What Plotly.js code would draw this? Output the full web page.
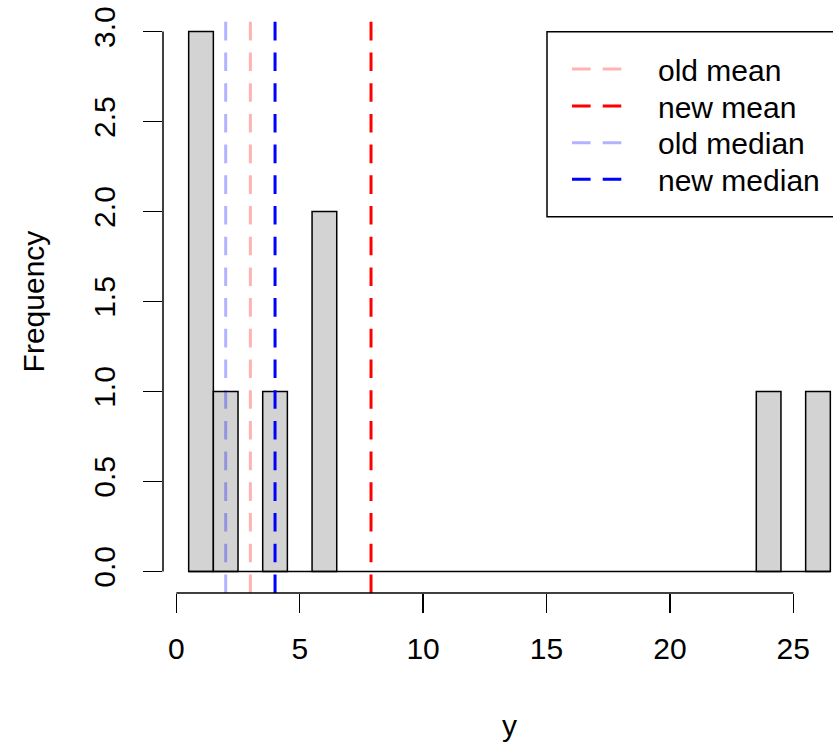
<!DOCTYPE html>
<html>
<head>
<meta charset="utf-8">
<script src="https://cdn.plot.ly/plotly-3.0.1.min.js"></script>
<style>
  html, body { margin: 0; padding: 0; overflow: hidden; background: #fff; }
  #chart { width: 900px; height: 742px; }
</style>
</head>
<body>
<div id="chart"></div>
<script>
// ---- data ----
var oldValues = [1, 1, 1, 2, 4, 6, 6];
var addedValues = [24, 26];
var newValues = oldValues.concat(addedValues);

var binStart = 0.5;
var binEnd = 26.5;
var binSize = 1;

var xTickVals = [0, 5, 10, 15, 20, 25];
var yTickVals = [0, 0.5, 1, 1.5, 2, 2.5, 3];
var yTickText = ['0.0', '0.5', '1.0', '1.5', '2.0', '2.5', '3.0'];

var lineNames = ['old mean', 'new mean', 'old median', 'new median'];
var lineColors = ['rgba(255,0,0,0.3)', 'rgb(255,0,0)', 'rgba(0,0,255,0.3)', 'rgb(0,0,255)'];

// ---- helpers ----
function mean(a) { return a.reduce(function (s, v) { return s + v; }, 0) / a.length; }
function median(a) {
  var s = a.slice().sort(function (p, q) { return p - q; });
  var n = s.length;
  return n % 2 ? s[(n - 1) / 2] : (s[n / 2 - 1] + s[n / 2]) / 2;
}
var lineValues = [mean(oldValues), mean(newValues), median(oldValues), median(newValues)];

// R-style 4% axis extension
var xPad = (binEnd - binStart) * 0.04;
var xRange = [binStart - xPad, binEnd + xPad];
var yMax = 3;
var yRange = [-yMax * 0.04, yMax * 1.04];

var FONT = '"Liberation Sans", Arial, Helvetica, sans-serif';
var FS = 30;

var traces = [];
// baseline of empty bins (R draws zero-height rectangles)
traces.push({
  type: 'scatter', mode: 'lines',
  x: [binStart, binEnd], y: [0, 0],
  line: { color: '#000', width: 1.5 },
  showlegend: false, hoverinfo: 'skip'
});
traces.push({
  type: 'histogram',
  x: newValues,
  autobinx: false,
  xbins: { start: binStart, end: binEnd, size: binSize },
  marker: { color: '#D3D3D3', line: { color: '#000', width: 1.5 } },
  showlegend: false
});
for (var i = 0; i < lineNames.length; i++) {
  traces.push({
    type: 'scatter', mode: 'lines',
    name: lineNames[i],
    x: [lineValues[i], lineValues[i]],
    y: [yRange[0], yRange[1]],
    line: { color: lineColors[i], width: 3, dash: '18.6px,12.1px' },
    cliponaxis: true
  });
}

// plot area in pixels
var L = 163, R = 44, T = 10, B = 149, W = 900, H = 742;
var PW = W - L - R, PH = H - T - B;
function px2x(p) { return (p - L) / PW; }
function px2y(p) { return (H - B - p) / PH; }

var layout = {
  width: W, height: H,
  margin: { l: L, r: R, t: T, b: B, pad: 0, autoexpand: false },
  paper_bgcolor: '#fff', plot_bgcolor: '#fff',
  font: { family: FONT, size: FS, color: '#000' },
  bargap: 0,
  showlegend: true,
  xaxis: {
    range: xRange, showgrid: false, zeroline: false, showline: false,
    tickmode: 'array', tickvals: xTickVals,
    ticks: 'outside', ticklen: 19, tickwidth: 1.5, tickcolor: '#000',
    tickfont: { family: FONT, size: FS, color: '#000' },
    ticklabelstandoff: 10,
    title: { text: 'y', font: { family: FONT, size: FS, color: '#000' }, standoff: 51 }
  },
  yaxis: {
    range: yRange, showgrid: false, zeroline: false, showline: false,
    tickmode: 'array', tickvals: yTickVals, ticktext: yTickText,
    ticks: 'outside', ticklen: 19, tickwidth: 1.5, tickcolor: '#000',
    tickangle: -90,
    tickfont: { family: FONT, size: FS, color: '#000' },
    ticklabelstandoff: 16,
    title: { text: 'Frequency', font: { family: FONT, size: FS, color: '#000' }, standoff: 34 }
  },
  shapes: [
    { type: 'line', xref: 'x', yref: 'paper', x0: xTickVals[0], x1: xTickVals[xTickVals.length - 1], y0: 0, y1: 0,
      line: { color: '#000', width: 1.5 } },
    { type: 'line', xref: 'paper', yref: 'y', x0: 0, x1: 0, y0: yTickVals[0], y1: yTickVals[yTickVals.length - 1],
      line: { color: '#000', width: 1.5 } },
    { type: 'rect', xref: 'paper', yref: 'paper', x0: px2x(547), x1: px2x(880), y0: px2y(216.7), y1: px2y(31.7),
      line: { color: '#000', width: 1.5 }, fillcolor: 'rgba(0,0,0,0)', layer: 'below' }
  ],
  legend: {
    x: px2x(567), y: px2y(40), xanchor: 'left', yanchor: 'top',
    bgcolor: 'rgba(0,0,0,0)', borderwidth: 0,
    itemwidth: 50,
    font: { family: FONT, size: FS, color: '#000' }
  }
};

// target legend layout (page pixels): row centres, sample start, text start
var legendRowY = [69, 106, 142.7, 179.3];
var legendLineX = 572;
var legendTextX = 658;

function parseTranslate(el) {
  var tr = el.getAttribute('transform') || '';
  var m = /translate\(\s*([-\d.e]+)(?:[ ,]+([-\d.e]+))?\s*\)/.exec(tr);
  return m ? [parseFloat(m[1]), parseFloat(m[2] || 0)] : [0, 0];
}

Plotly.newPlot('chart', traces, layout, { displayModeBar: false, staticPlot: true }).then(function (gd) {
  try {
    var sb = gd.querySelector('.legend .scrollbox');
    if (sb) sb.removeAttribute('clip-path');
    var leg = gd.querySelector('g.legend');
    if (leg) leg.removeAttribute('clip-path');
    var items = gd.querySelectorAll('g.legend g.traces');
    items.forEach(function (g, k) {
      if (k >= legendRowY.length) return;
      var t = parseTranslate(g);
      var path = g.querySelector('path.js-line') || g.querySelector('.legendlines path') || g.querySelector('path');
      var txt = g.querySelector('text.legendtext') || g.querySelector('text');
      if (!path || !txt) return;
      var lb = path.getBoundingClientRect();
      var dy = legendRowY[k] - (lb.top + lb.bottom) / 2;
      var dx = legendLineX - lb.left;
      g.setAttribute('transform', 'translate(' + (t[0] + dx) + ',' + (t[1] + dy) + ')');
      var tb = txt.getBoundingClientRect();
      var shift = legendTextX - tb.left;
      txt.setAttribute('x', parseFloat(txt.getAttribute('x') || 0) + shift);
      txt.querySelectorAll('tspan').forEach(function (ts) {
        if (ts.hasAttribute('x')) ts.setAttribute('x', parseFloat(ts.getAttribute('x')) + shift);
      });
    });
  } catch (e) { /* keep default legend placement */ }
});
</script>
</body>
</html>
